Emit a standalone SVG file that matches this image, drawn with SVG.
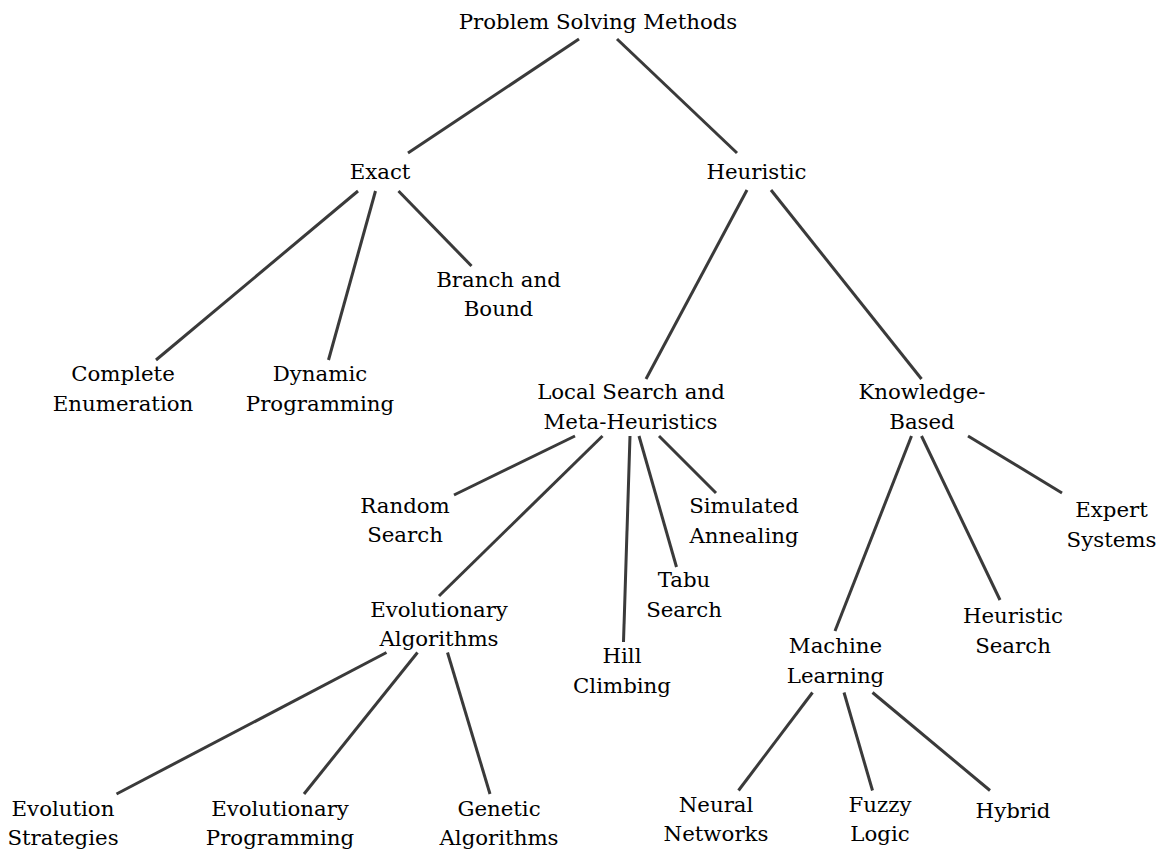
<svg xmlns="http://www.w3.org/2000/svg" width="1161" height="850" viewBox="0 0 1161 850">
<style>
.t text{font-family:"DejaVu Serif","Liberation Serif",serif;font-size:21.3px;fill:#000;text-anchor:middle}
.c line{stroke:#3a3a3a;stroke-width:3;stroke-linecap:butt}
</style>
<rect width="1161" height="850" fill="#fff"/>
<g class="c" id="connectors">
<line x1="579" y1="39" x2="408" y2="153"/>
<line x1="617" y1="39" x2="737" y2="153"/>
<line x1="358" y1="191" x2="156" y2="360"/>
<line x1="375.5" y1="191" x2="328.5" y2="360"/>
<line x1="398.5" y1="191" x2="471.5" y2="266"/>
<line x1="747" y1="190" x2="646" y2="379"/>
<line x1="771" y1="190" x2="921.5" y2="379"/>
<line x1="575" y1="436" x2="454" y2="495"/>
<line x1="602.5" y1="436" x2="439" y2="596"/>
<line x1="630" y1="436" x2="623.5" y2="642"/>
<line x1="639" y1="436" x2="676.5" y2="567"/>
<line x1="659" y1="436" x2="716" y2="493"/>
<line x1="911.5" y1="436" x2="835" y2="631"/>
<line x1="921.5" y1="436" x2="1000" y2="600"/>
<line x1="968" y1="436" x2="1062" y2="493"/>
<line x1="386.5" y1="652.5" x2="116.5" y2="794"/>
<line x1="417.5" y1="652.5" x2="304" y2="794"/>
<line x1="447.5" y1="652.5" x2="490" y2="794"/>
<line x1="812.5" y1="692.5" x2="738.5" y2="790.5"/>
<line x1="844" y1="692.5" x2="872.5" y2="790.5"/>
<line x1="872.5" y1="692.5" x2="990" y2="790.5"/>
</g>
<g class="t">
<g id="root"><text x="598" y="29">Problem Solving Methods</text></g>
<g id="exact"><text x="380" y="179">Exact</text></g>
<g id="heuristic"><text x="756.5" y="179">Heuristic</text></g>
<g id="branch"><text x="498.5" y="287">Branch and</text><text x="498.5" y="316">Bound</text></g>
<g id="complete"><text x="123" y="381">Complete</text><text x="123" y="411">Enumeration</text></g>
<g id="dynamic"><text x="320" y="381">Dynamic</text><text x="320" y="411">Programming</text></g>
<g id="local"><text x="631" y="399">Local Search and</text><text x="630.5" y="429">Meta-Heuristics</text></g>
<g id="knowledge"><text x="922" y="399">Knowledge-</text><text x="922" y="429">Based</text></g>
<g id="random"><text x="405" y="513">Random</text><text x="405" y="542">Search</text></g>
<g id="simulated"><text x="744" y="513">Simulated</text><text x="744" y="543">Annealing</text></g>
<g id="expert"><text x="1111.5" y="517">Expert</text><text x="1111.5" y="547">Systems</text></g>
<g id="tabu"><text x="684" y="587">Tabu</text><text x="684" y="617">Search</text></g>
<g id="evolutionary"><text x="439" y="617">Evolutionary</text><text x="439" y="646">Algorithms</text></g>
<g id="heursearch"><text x="1013" y="623">Heuristic</text><text x="1013" y="653">Search</text></g>
<g id="hill"><text x="622" y="663">Hill</text><text x="622" y="693">Climbing</text></g>
<g id="machine"><text x="835.5" y="653">Machine</text><text x="835.5" y="683">Learning</text></g>
<g id="es"><text x="63" y="816">Evolution</text><text x="63" y="845">Strategies</text></g>
<g id="ep"><text x="280" y="816">Evolutionary</text><text x="280" y="845">Programming</text></g>
<g id="ga"><text x="499" y="816">Genetic</text><text x="499" y="845">Algorithms</text></g>
<g id="nn"><text x="716" y="812">Neural</text><text x="716" y="841">Networks</text></g>
<g id="fuzzy"><text x="880" y="812">Fuzzy</text><text x="880" y="841">Logic</text></g>
<g id="hybrid"><text x="1013" y="818">Hybrid</text></g>
</g>
</svg>
